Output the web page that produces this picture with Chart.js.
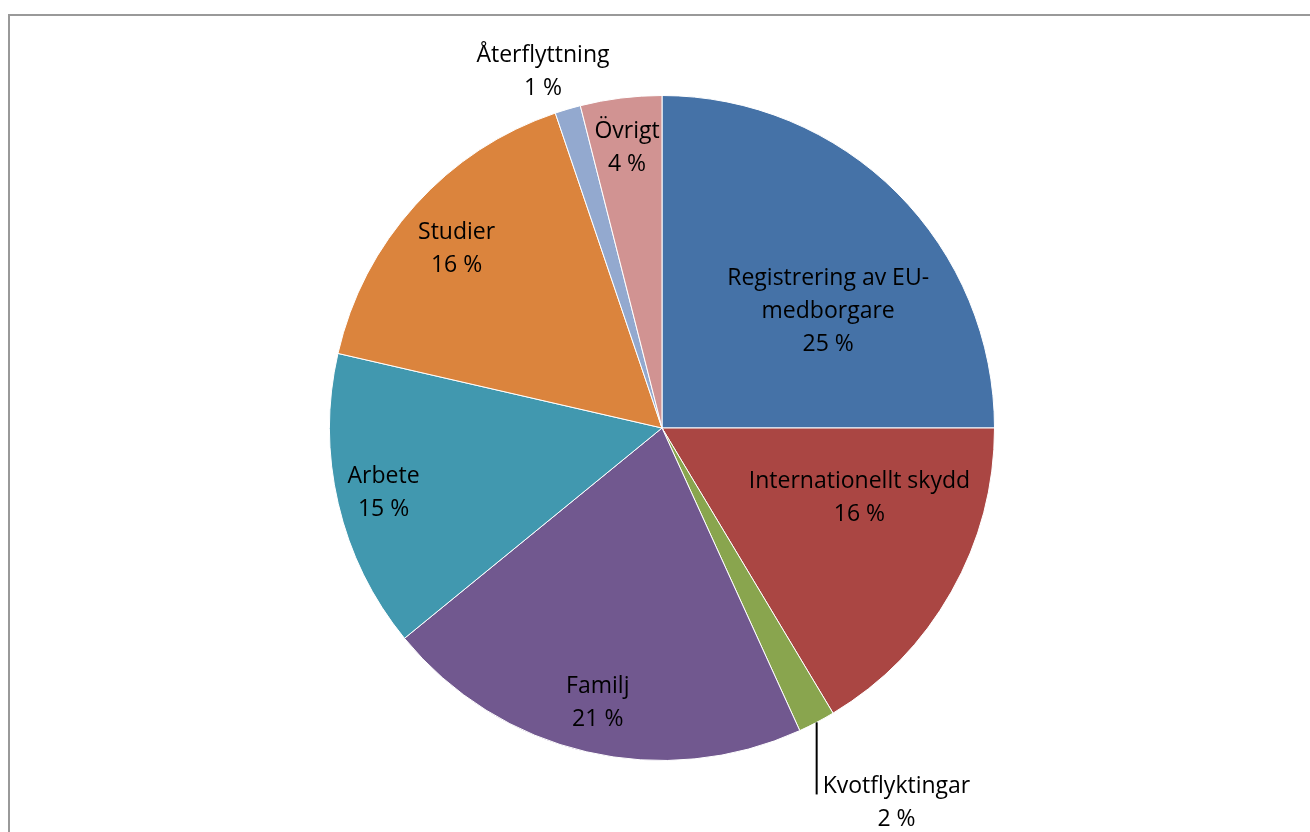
<!DOCTYPE html>
<html>
<head>
<meta charset="utf-8">
<script src="https://cdn.jsdelivr.net/npm/chart.js@4.4.0/dist/chart.umd.min.js"></script>
<style>
  html, body { margin: 0; padding: 0; background: #fff; }
  #wrap { position: relative; width: 1310px; height: 832px; }
  #frame { position: absolute; left: 8px; top: 14px; right: -4px; bottom: -4px; border: 2px solid #999; }
</style>
</head>
<body>
<div id="wrap">
  <div id="frame"></div>
  <canvas id="pie" width="1310" height="832"></canvas>
</div>
<script>
// categories and shares (in %)
const categories = [
  ['Registrering av EU-', 'medborgare'],
  ['Internationellt skydd'],
  ['Kvotflyktingar'],
  ['Familj'],
  ['Arbete'],
  ['Studier'],
  ['Återflyttning'],
  ['Övrigt']
];
const shares = [25, 16.4, 1.8, 20.9, 14.5, 16.2, 1.25, 3.95];
const shareLabels = ['25 %', '16 %', '2 %', '21 %', '15 %', '16 %', '1 %', '4 %'];
const colors = ['#4572a7', '#aa4643', '#89a54e', '#71588f', '#4198af', '#db843d', '#93a9cf', '#d19392'];

// where each label sits: angle shift (deg) from mid-angle, radius factor, leader line
const labelPlacement = [
  { shift: 10, r: 0.61 },
  { shift: -10, r: 0.63 },
  { shift: -4.3, r: 1.33, leader: true },
  { shift: 0, r: 0.85 },
  { shift: 0, r: 0.86 },
  { shift: -1, r: 0.82 },
  { shift: -2, r: 1.13 },
  { shift: 0, r: 0.85 }
];

const FONT = '23px "Open Sans", sans-serif';
const LINE_H = 33;

const sliceLabels = {
  id: 'sliceLabels',
  afterDatasetsDraw(chart) {
    const ctx = chart.ctx;
    const arcs = chart.getDatasetMeta(0).data;
    ctx.save();
    ctx.font = FONT;
    ctx.fillStyle = '#000';
    ctx.textAlign = 'center';
    ctx.textBaseline = 'middle';
    arcs.forEach((arc, i) => {
      const p = labelPlacement[i];
      const mid = (arc.startAngle + arc.endAngle) / 2;
      const a = mid + p.shift * Math.PI / 180;
      const rad = arc.outerRadius * p.r;
      const cx = arc.x + Math.cos(a) * rad;
      const cy = arc.y + Math.sin(a) * rad;
      const lines = categories[i].concat([shareLabels[i]]);
      const top = cy - (lines.length - 1) * LINE_H / 2;
      if (p.leader) {
        const ex = arc.x + Math.cos(mid) * arc.outerRadius;
        const ey = arc.y + Math.sin(mid) * arc.outerRadius;
        ctx.strokeStyle = '#000';
        ctx.lineWidth = 2;
        ctx.beginPath();
        ctx.moveTo(ex, ey);
        ctx.lineTo(ex, top + 8);
        ctx.stroke();
      }
      lines.forEach((t, k) => ctx.fillText(t, cx, top + k * LINE_H));
    });
    ctx.restore();
  }
};

new Chart(document.getElementById('pie'), {
  type: 'pie',
  data: {
    labels: categories.map(c => c.join(' ')),
    datasets: [{
      data: shares,
      backgroundColor: colors,
      borderColor: '#ffffff',
      borderWidth: 1
    }]
  },
  options: {
    responsive: false,
    animation: false,
    layout: { padding: { left: 14, right: 0, top: 95, bottom: 71 } },
    plugins: {
      legend: { display: false },
      tooltip: { enabled: false }
    }
  },
  plugins: [sliceLabels]
});
</script>
</body>
</html>
